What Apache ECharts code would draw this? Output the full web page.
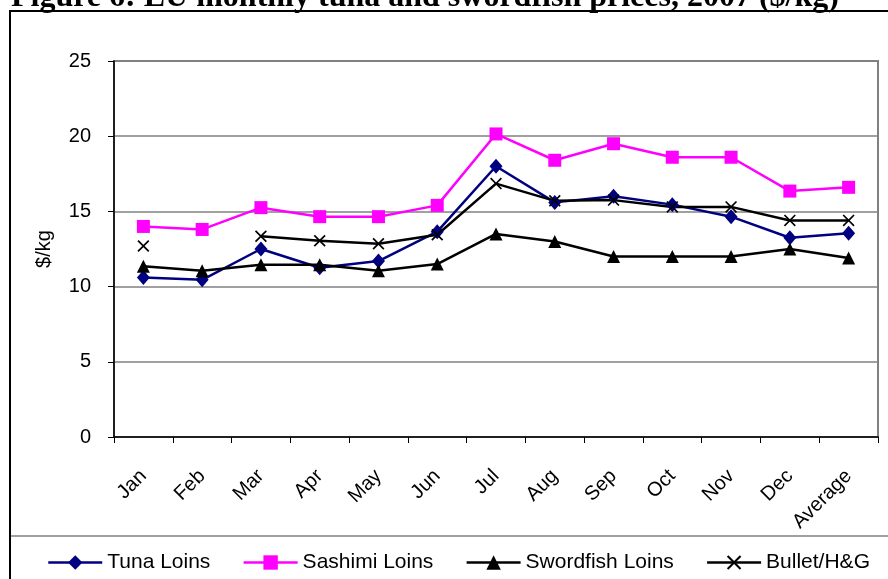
<!DOCTYPE html>
<html>
<head>
<meta charset="utf-8">
<script src="https://cdn.jsdelivr.net/npm/echarts@6/dist/echarts.min.js"></script>
<style>
html,body{margin:0;padding:0;background:#fff;}
#chart{width:888px;height:579px;}
</style>
</head>
<body>
<div id="chart"></div>
<script>
const categories = ['Jan','Feb','Mar','Apr','May','Jun','Jul','Aug','Sep','Oct','Nov','Dec','Average'];
const tunaLoins = [10.6, 10.45, 12.5, 11.25, 11.7, 13.65, 18.0, 15.6, 16.0, 15.45, 14.65, 13.25, 13.55];
const sashimiLoins = [14.0, 13.8, 15.25, 14.65, 14.65, 15.4, 20.15, 18.4, 19.5, 18.6, 18.6, 16.35, 16.6];
const swordfishLoins = [11.35, 11.05, 11.45, 11.45, 11.05, 11.5, 13.5, 13.0, 12.0, 12.0, 12.0, 12.5, 11.9];
const bulletHG = [12.7, null, 13.35, 13.05, 12.85, 13.45, 16.85, 15.7, 15.75, 15.3, 15.3, 14.4, 14.4];
const yTicks = [0, 5, 10, 15, 20, 25];

const FONT = '"Liberation Sans", Arial, sans-serif';
const xSymbol = 'path://M0,1 L1,0 L5,4 L9,0 L10,1 L6,5 L10,9 L9,10 L5,6 L1,10 L0,9 L4,5 Z';

const chart = echarts.init(document.getElementById('chart'));
chart.setOption({
  animation: false,
  backgroundColor: '#fff',
  title: {
    text: 'Figure 6: EU monthly tuna and swordfish prices, 2007 ($/kg)',
    left: 11,
    top: -18,
    padding: 0,
    textStyle: {fontFamily: '"Liberation Serif", "Times New Roman", serif', fontWeight: 'bold', fontSize: 32, color: '#000'}
  },
  graphic: [
    {type: 'rect', shape: {x: 10, y: 11, width: 900, height: 600}, style: {fill: 'none', stroke: '#000', lineWidth: 2}, z: -1},
    {type: 'line', shape: {x1: 11, y1: 536, x2: 888, y2: 536}, style: {stroke: '#808080', lineWidth: 1.5}}
  ],
  grid: {left: 114, right: 10, top: 61, bottom: 142, show: true, borderColor: '#808080', borderWidth: 2},
  legend: {
    left: 42,
    top: 547,
    itemWidth: 54,
    itemHeight: 18,
    itemGap: 32,
    lineStyle: {width: 2.5},
    textStyle: {fontFamily: FONT, fontSize: 21, color: '#000'},
    data: ['Tuna Loins', 'Sashimi Loins', 'Swordfish Loins', 'Bullet/H&G']
  },
  xAxis: {
    type: 'category',
    data: categories,
    boundaryGap: true,
    axisLine: {lineStyle: {color: '#000', width: 1.5}},
    axisTick: {show: true, length: 6, lineStyle: {color: '#000', width: 1}},
    axisLabel: {interval: 0, rotate: 45, margin: 36, fontFamily: FONT, fontSize: 20, color: '#000'},
    splitLine: {show: false}
  },
  yAxis: {
    type: 'value',
    min: yTicks[0],
    max: yTicks[yTicks.length - 1],
    interval: 5,
    name: '$/kg',
    nameLocation: 'middle',
    nameRotate: 90,
    nameGap: 60,
    nameTextStyle: {fontFamily: FONT, fontSize: 20, color: '#000'},
    axisLine: {show: true, lineStyle: {color: '#000', width: 1.5}},
    axisTick: {show: true, length: 6, lineStyle: {color: '#000', width: 1}},
    axisLabel: {margin: 23, fontFamily: FONT, fontSize: 20, color: '#000'},
    splitLine: {show: true, lineStyle: {color: '#808080', width: 1.5}}
  },
  series: [
    {
      name: 'Tuna Loins', type: 'line', data: tunaLoins,
      symbol: 'diamond', symbolSize: [13, 15],
      lineStyle: {color: '#000080', width: 2.5},
      itemStyle: {color: '#000080'}
    },
    {
      name: 'Sashimi Loins', type: 'line', data: sashimiLoins,
      symbol: 'rect', symbolSize: 13,
      lineStyle: {color: '#FF00FF', width: 2.5},
      itemStyle: {color: '#FF00FF'}
    },
    {
      name: 'Swordfish Loins', type: 'line', data: swordfishLoins,
      symbol: 'triangle', symbolSize: 13,
      lineStyle: {color: '#000', width: 2.5},
      itemStyle: {color: '#000'}
    },
    {
      name: 'Bullet/H&G', type: 'line', data: bulletHG,
      symbol: xSymbol, symbolSize: 12, connectNulls: false,
      lineStyle: {color: '#000', width: 2.5},
      itemStyle: {color: '#000'}
    }
  ]
});
</script>
</body>
</html>
